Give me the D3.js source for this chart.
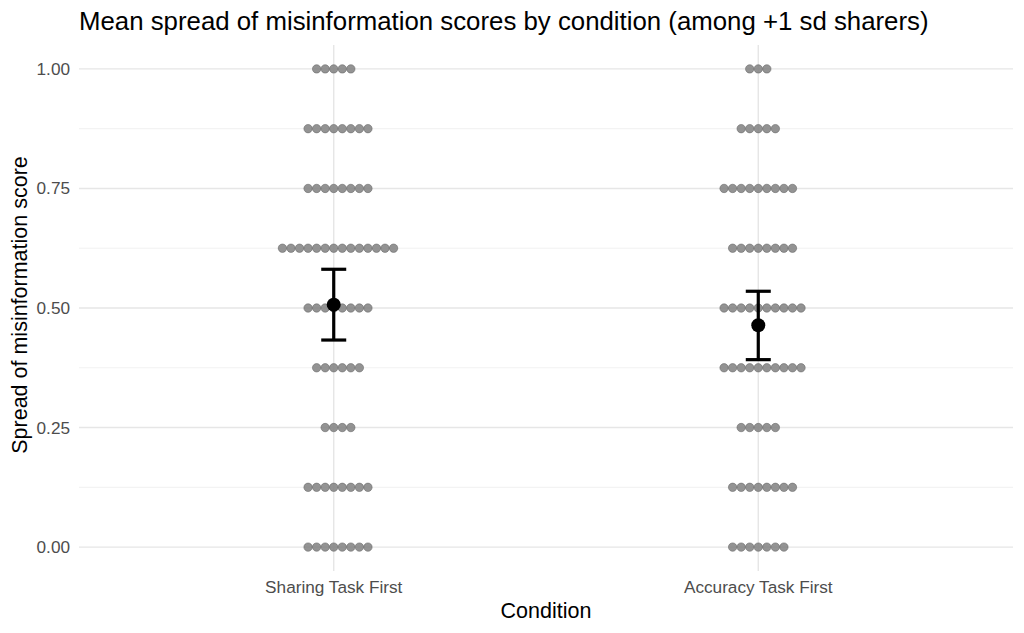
<!DOCTYPE html>
<html>
<head>
<meta charset="utf-8">
<script src="https://cdn.jsdelivr.net/npm/d3@7"></script>
<style>
  body { margin: 0; background: #fff; }
  text { font-family: "Liberation Sans", Arial, sans-serif; }
</style>
</head>
<body>
<div id="chart"></div>
<script>
// data
var conditions = ["Sharing Task First", "Accuracy Task First"];
var scoreLevels = [0, 0.125, 0.25, 0.375, 0.5, 0.625, 0.75, 0.875, 1];
// how many participants at each score level, per condition
var sharingCounts = [8, 8, 4, 6, 8, 14, 8, 8, 5];
var accuracyCounts = [7, 8, 5, 10, 10, 8, 9, 5, 3];
// mean and 95% CI
var means = [0.507, 0.464];
var ciLow = [0.433, 0.392];
var ciHigh = [0.581, 0.535];
var yTicks = [0, 0.25, 0.5, 0.75, 1];
var yMinor = [0.125, 0.375, 0.625, 0.875];

var width = 1024, height = 633;
var margin = { top: 45, right: 11, bottom: 62, left: 79 };
var pw = width - margin.left - margin.right;
var ph = height - margin.top - margin.bottom;

var svg = d3.select("#chart").append("svg")
    .attr("width", width)
    .attr("height", height);

var g = svg.append("g")
    .attr("transform", `translate(${margin.left},${margin.top})`);

// ggplot style discrete axis: 0.6 expansion on each side
var x = d3.scaleLinear().domain([0.4, 2.6]).range([0, pw]);
var y = d3.scaleLinear().domain([-0.05, 1.05]).range([ph, 0]);

// grid
g.selectAll(".minor").data(yMinor).join("line")
    .attr("x1", 0).attr("x2", pw)
    .attr("y1", d => y(d)).attr("y2", d => y(d))
    .style("stroke", "#ebebeb").style("stroke-width", 0.7);
g.selectAll(".major").data(yTicks).join("line")
    .attr("x1", 0).attr("x2", pw)
    .attr("y1", d => y(d)).attr("y2", d => y(d))
    .style("stroke", "#e6e6e6").style("stroke-width", 1.4);
g.selectAll(".vmajor").data(conditions).join("line")
    .attr("x1", (d, i) => x(i + 1)).attr("x2", (d, i) => x(i + 1))
    .attr("y1", 0).attr("y2", ph)
    .style("stroke", "#e6e6e6").style("stroke-width", 1.4);

// dot spacing in pixels, converted to x units
var dotStep = 8.55;
var dotR = 4.2;
var pxPerUnit = x(2) - x(1);

var allCounts = [sharingCounts, accuracyCounts];
var dots = [];
allCounts.forEach(function (counts, ci) {
    counts.forEach(function (n, li) {
        var start = -Math.floor((n - 1) / 2);
        for (var k = 0; k < n; k++) {
            dots.push({ cond: ci + 1 + (start + k) * dotStep / pxPerUnit, score: scoreLevels[li] });
        }
    });
});

g.append("g").selectAll("circle").data(dots).join("circle")
    .attr("cx", d => x(d.cond))
    .attr("cy", d => y(d.score))
    .attr("r", dotR)
    .style("fill", "#808080")
    .style("fill-opacity", 0.85)
    .style("stroke", "#666")
    .style("stroke-opacity", 0.7)
    .style("stroke-width", 0.8);

// error bars
var capHalf = 12.5;
var eb = g.append("g");
conditions.forEach(function (c, i) {
    var cx = x(i + 1);
    eb.append("line")
        .attr("x1", cx).attr("x2", cx)
        .attr("y1", y(ciLow[i])).attr("y2", y(ciHigh[i]))
        .style("stroke", "#000").style("stroke-width", 3.2);
    [ciLow[i], ciHigh[i]].forEach(function (v) {
        eb.append("line")
            .attr("x1", cx - capHalf).attr("x2", cx + capHalf)
            .attr("y1", y(v)).attr("y2", y(v))
            .style("stroke", "#000").style("stroke-width", 3.2);
    });
    eb.append("circle")
        .attr("cx", cx).attr("cy", y(means[i]))
        .attr("r", 7)
        .style("fill", "#000");
});

// y tick labels
g.selectAll(".ylab").data(yTicks).join("text")
    .attr("x", -9)
    .attr("y", d => y(d))
    .attr("dy", "0.35em")
    .attr("text-anchor", "end")
    .style("font-size", "17.2px")
    .style("fill", "#4d4d4d")
    .text(d => d3.format(".2f")(d));

// x tick labels
g.selectAll(".xlab").data(conditions).join("text")
    .attr("x", (d, i) => x(i + 1))
    .attr("y", 593 - margin.top)
    .attr("text-anchor", "middle")
    .style("font-size", "17.2px")
    .style("fill", "#4d4d4d")
    .text(d => d);

// axis titles
svg.append("text")
    .attr("x", margin.left + pw / 2)
    .attr("y", 618)
    .attr("text-anchor", "middle")
    .style("font-size", "21.5px")
    .style("fill", "#000")
    .text("Condition");

svg.append("text")
    .attr("transform", `translate(27,${margin.top + ph / 2 - 3}) rotate(-90)`)
    .attr("text-anchor", "middle")
    .style("font-size", "21.5px")
    .style("fill", "#000")
    .text("Spread of misinformation score");

// title
svg.append("text")
    .attr("x", 79)
    .attr("y", 30)
    .style("font-size", "25.8px")
    .style("fill", "#000")
    .text("Mean spread of misinformation scores by condition (among +1 sd sharers)");
</script>
</body>
</html>
